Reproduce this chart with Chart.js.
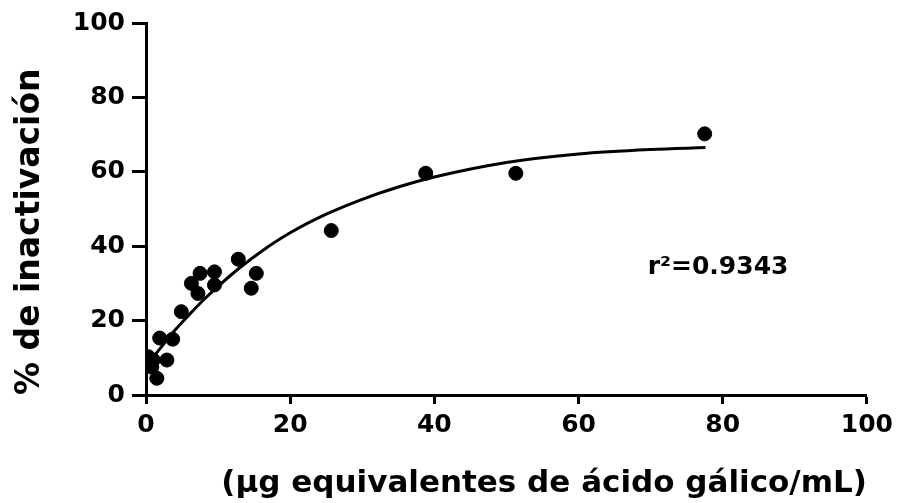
<!DOCTYPE html>
<html>
<head>
<meta charset="utf-8">
<script src="https://cdn.jsdelivr.net/npm/chart.js@4"></script>
<style>
  body { margin: 0; background: #fff; }
</style>
</head>
<body>
<canvas id="chart" width="899" height="503"></canvas>
<script>
const fram = document.getElementById('chart');

// measured points
const xPoints = [0.3, 0.8, 1.0, 1.5, 2.9, 1.9, 3.7, 4.9, 6.3, 7.2, 7.5, 9.5, 9.5, 12.8, 15.3, 14.6, 25.7, 38.8, 51.3, 77.5];
const yPoints = [10.3, 7.5, 9.4, 4.5, 9.4, 15.3, 15.0, 22.4, 30.0, 27.3, 32.7, 33.1, 29.6, 36.5, 32.7, 28.7, 44.2, 59.6, 59.6, 70.2];

// fitted curve
const xFit = [0.5, 1, 2, 4, 6, 8, 10, 13, 16, 20, 25, 30, 35, 40, 50, 60, 70, 77.6];
const yFit = [9, 10.2, 12.6, 17.4, 21.6, 25.6, 29.2, 34.2, 38.6, 43.6, 48.6, 52.6, 55.9, 58.6, 62.5, 64.8, 66.0, 66.5];

const xTicks = [0, 20, 40, 60, 80, 100];
const yTicks = [0, 20, 40, 60, 80, 100];

const xTitle = '(µg equivalentes de ácido gálico/mL)';
const yTitle = '% de inactivación';
const r2Label = 'r²=0.9343';

const points = xPoints.map((x, i) => ({ x: x, y: yPoints[i] }));
const fit = xFit.map((x, i) => ({ x: x, y: yFit[i] }));

const fontFam = '"DejaVu Sans", sans-serif';

const r2Plugin = {
  id: 'r2',
  afterDatasetsDraw(chart) {
    const ctx = chart.ctx;
    const xs = chart.scales.x, ys = chart.scales.y;
    ctx.save();
    ctx.fillStyle = '#000';
    ctx.font = 'bold 25px ' + fontFam;
    ctx.textBaseline = 'alphabetic';
    ctx.fillText(r2Label, xs.getPixelForValue(69.6), ys.getPixelForValue(32.6));
    ctx.restore();
  }
};

new Chart(fram, {
  type: 'scatter',
  data: {
    datasets: [
      {
        data: points,
        backgroundColor: '#000',
        borderColor: '#000',
        pointRadius: 7,
        pointHoverRadius: 7,
        order: 0,
      },
      {
        data: fit,
        showLine: true,
        borderColor: '#000',
        borderWidth: 3,
        pointRadius: 0,
        tension: 0.4,
        cubicInterpolationMode: 'monotone',
        order: 1,
      },
    ],
  },
  options: {
    responsive: false,
    animation: false,
    layout: { padding: { left: 0, right: 30, top: 23, bottom: 0 } },
    plugins: { legend: { display: false }, tooltip: { enabled: false } },
    scales: {
      x: {
        type: 'linear',
        min: 0,
        max: 100,
        afterFit(s) { s.height = 108; },
        afterBuildTicks(s) { s.ticks = xTicks.map(v => ({ value: v })); },
        border: { display: true, color: '#000', width: 3 },
        grid: { drawOnChartArea: false, drawTicks: true, tickLength: 9, tickWidth: 3, tickColor: '#000' },
        ticks: { color: '#000', padding: 6, maxRotation: 0, font: { family: fontFam, size: 25, weight: 'bold' } },
        title: {
          display: true,
          text: xTitle,
          color: '#000',
          align: 'end',
          padding: { top: 0, bottom: 0 },
          font: { family: fontFam, size: 31, weight: 'bold' },
        },
      },
      y: {
        type: 'linear',
        min: 0,
        max: 100,
        afterFit(s) { s.width = 146; },
        afterBuildTicks(s) { s.ticks = yTicks.map(v => ({ value: v })); },
        border: { display: true, color: '#000', width: 3 },
        grid: { drawOnChartArea: false, drawTicks: true, tickLength: 14, tickWidth: 3, tickColor: '#000' },
        ticks: { color: '#000', padding: 7, font: { family: fontFam, size: 25, weight: 'bold' } },
        title: {
          display: true,
          text: yTitle,
          color: '#000',
          align: 'start',
          padding: { top: 11, bottom: 0 },
          font: { family: fontFam, size: 33, weight: 'bold' },
        },
      },
    },
  },
  plugins: [r2Plugin],
});
</script>
</body>
</html>
